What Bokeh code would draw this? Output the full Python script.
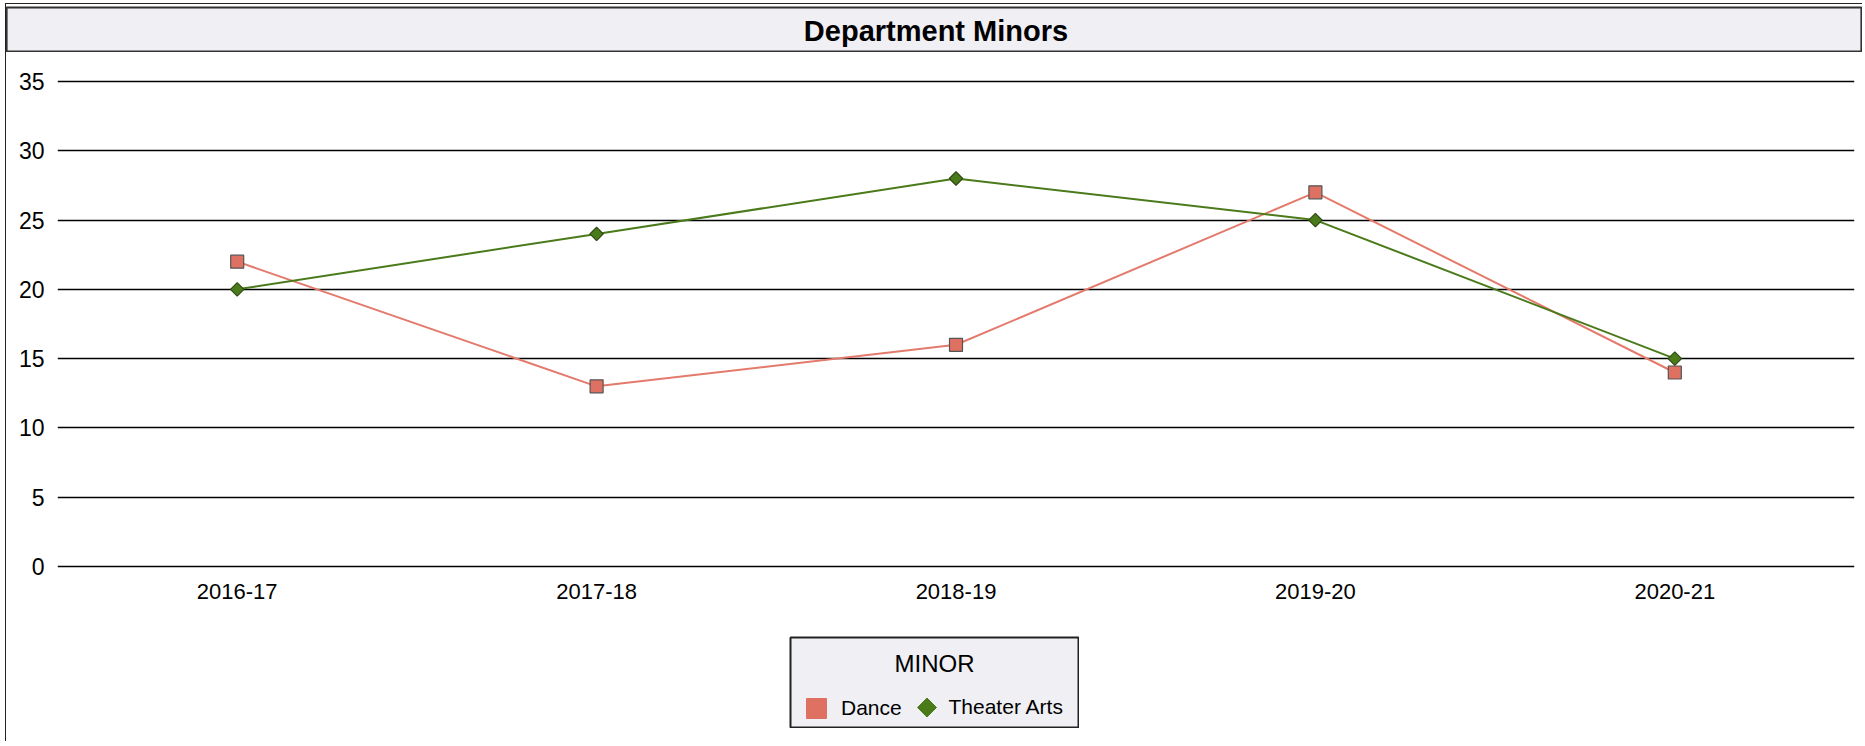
from bokeh.plotting import figure
from bokeh.models import (FactorRange, Range1d, Label, Legend, LegendItem,
                          SingleIntervalTicker, Spacer)
from bokeh.layouts import column, row
from bokeh.embed import file_html
from bokeh.resources import INLINE
import math

# ---- data ----
years = ["2016-17", "2017-18", "2018-19", "2019-20", "2020-21"]
dance = [22, 13, 16, 27, 14]
theater = [20, 24, 28, 25, 15]
series_names = ["Dance", "Theater Arts"]
chart_title = "Department Minors"
legend_title = "MINOR"

FONT = "Liberation Sans"
DANCE_FILL = "#df7163"
DANCE_LINE = "#e37a6c"
THEATER = "#4b7a1b"
PANEL = "#efeff4"


def blank(width, height, line_color, line_width, mb, **kw):
    f = figure(width=width, height=height, output_backend="svg", toolbar_location=None,
               x_axis_location=None, y_axis_location=None,
               min_border_left=mb[0], min_border_right=mb[1],
               min_border_top=mb[2], min_border_bottom=mb[3],
               background_fill_color=PANEL, border_fill_color="white", **kw)
    f.frame_align = False
    f.grid.visible = False
    f.outline_line_color = line_color
    f.outline_line_width = line_width
    return f


# ---- title box ----
ft = blank(1856, 48, "#333333", 2.2, (0, 1, 3, 1),
           x_range=Range1d(0, 1), y_range=Range1d(0, 1))
ft.add_layout(Label(x=929.5, y=21, x_units="screen", y_units="screen",
                    text=chart_title, text_font=FONT, text_font_size="29px",
                    text_font_style="bold", text_align="center",
                    text_baseline="alphabetic", text_color="black"))

# ---- main chart ----
p = figure(width=1856, height=584, output_backend="svg", toolbar_location=None,
           x_range=FactorRange(factors=years, range_padding=0),
           y_range=Range1d(-0.29, 35.29),
           min_border_left=51, min_border_right=8,
           min_border_top=25, min_border_bottom=66,
           background_fill_color="white", border_fill_color="white")
p.frame_align = False
p.outline_line_color = None
p.xgrid.grid_line_color = None
p.ygrid.grid_line_color = "black"
p.ygrid.grid_line_width = 1.6
p.yaxis.ticker = SingleIntervalTicker(interval=5)

for ax in (p.xaxis[0], p.yaxis[0]):
    ax.axis_line_color = None
    ax.major_tick_line_color = None
    ax.minor_tick_line_color = None
    ax.major_tick_out = 0
    ax.major_tick_in = 0
    ax.minor_tick_out = 0
    ax.major_label_text_font = FONT
    ax.major_label_text_color = "black"
p.yaxis.major_label_text_font_size = "23px"
p.yaxis.major_label_standoff = 13
p.xaxis.major_label_text_font_size = "22px"
p.xaxis.major_label_standoff = 13

p.line(years, dance, line_color=DANCE_LINE, line_width=2)
p.line(years, theater, line_color=THEATER, line_width=2)
p.scatter(years, dance, marker="square", size=13, fill_color=DANCE_FILL,
          line_color="#555555", line_width=1.2)
p.scatter(years, theater, marker="square", angle=math.pi / 4, size=9.5,
          fill_color=THEATER, line_color="#2f4a12", line_width=1.2)

# ---- legend box (its ranges are in pixels of the box) ----
fl = blank(290, 92, "#222222", 2, (1, 1, 1, 1),
           x_range=Range1d(0, 288), y_range=Range1d(0, 90))
fl.add_layout(Label(x=144, y=64, x_units="screen", y_units="screen",
                    text=legend_title, text_font=FONT, text_font_size="24px",
                    text_align="center", text_baseline="alphabetic",
                    text_color="black"))
# hidden proxies that carry the key styles for the legend
ld = fl.scatter(dance, dance, visible=False, marker="square",
                fill_color=DANCE_FILL, line_color=DANCE_FILL)
lt = fl.scatter(theater, theater, visible=False, marker="square",
                fill_alpha=0, line_alpha=0)
# diamond key (legend keys ignore marker angle)
fl.scatter([136.5], [20], marker="square", angle=math.pi / 4, size=13.4,
           fill_color=THEATER, line_color=THEATER)
common = dict(orientation="horizontal", padding=0, margin=0,
              border_line_alpha=0, background_fill_alpha=0,
              inactive_fill_alpha=0,
              label_text_font=FONT, label_text_font_size="21px",
              label_text_color="black")
leg1 = Legend(items=[LegendItem(label=series_names[0], renderers=[ld])],
              location=(1, -5.5), glyph_width=50, glyph_height=50,
              label_standoff=-4, **common)
leg2 = Legend(items=[LegendItem(label=series_names[1], renderers=[lt])],
              location=(119.5, 3), glyph_width=34, glyph_height=34,
              label_standoff=5, **common)
fl.add_layout(leg1, "center")
fl.add_layout(leg2, "center")

layout = column(ft, p, row(Spacer(width=783, height=92), fl),
                Spacer(width=10, height=13),
                margin=(3, 0, 0, 5),
                styles={"border-left": "1px solid #222222",
                        "border-top": "1px solid #222222"})

open("out.html", "w").write(file_html(layout, INLINE))
